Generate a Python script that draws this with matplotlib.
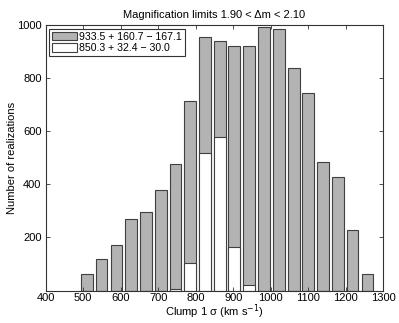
import matplotlib
matplotlib.use("Agg")
import matplotlib.pyplot as plt

plt.rcParams['font.family'] = ['Liberation Sans', 'DejaVu Sans']

# histogram bin centres (km/s)
bin_centres = [510, 549, 589, 628, 667, 707, 746, 785, 825, 864,
               903, 943, 982, 1021, 1061, 1100, 1140, 1179, 1218, 1258]
# all realizations
counts_all = [62, 117, 170, 269, 296, 379, 477, 713, 957, 941,
              921, 921, 993, 987, 838, 744, 483, 427, 229, 62]
# subset within magnification limits
counts_sub = [0, 0, 0, 0, 0, 0, 4, 102, 517, 578,
              163, 20, 0, 0, 0, 0, 0, 0, 0, 0]

label_all = "933.5 + 160.7 \u2212 167.1"
label_sub = "850.3 + 32.4 \u2212 30.0"

bin_width = 39.3
fs = 8.0

fig = plt.figure(figsize=(3.99, 3.23), dpi=100)
ax = fig.add_axes([0.1145, 0.1006, 0.8462, 0.8208])

ax.bar(bin_centres, counts_all, width=0.8 * bin_width, color='0.70',
       edgecolor='0.25', linewidth=0.8, label=label_all)
ax.bar(bin_centres, counts_sub, width=0.8 * bin_width, color='white',
       edgecolor='0.25', linewidth=0.8, label=label_sub)

ax.set_xlim(400, 1300)
ax.set_ylim(0, 1000)
ax.set_xticks(range(400, 1301, 100))
ax.set_yticks([200, 400, 600, 800, 1000])
ax.tick_params(direction='in', top=True, right=True, length=3,
               width=0.6, labelsize=fs, color='0.2', pad=3)
ax.tick_params(axis='x', pad=1.5)
for sp in ax.spines.values():
    sp.set_linewidth(0.8)
    sp.set_color('0.2')

ax.set_title("Magnification limits 1.90 < \u0394m < 2.10", fontsize=fs, pad=5)
ax.set_xlabel("Clump 1 \u03c3 (km s$^{-1}$)", fontsize=fs)
ax.set_ylabel("Number of realizations", fontsize=fs)
ax.xaxis.set_label_coords(0.5, -0.043)
ax.yaxis.set_label_coords(-0.085, 0.5)

leg = ax.legend(loc='upper left', fontsize=7.6, fancybox=False,
                framealpha=1, edgecolor='0.2', handlelength=2.4,
                handleheight=0.85, handletextpad=0.2, borderpad=0.3,
                labelspacing=0.12, borderaxespad=0.3)
leg.get_frame().set_linewidth(0.8)

fig.savefig("out.png", dpi=100)
